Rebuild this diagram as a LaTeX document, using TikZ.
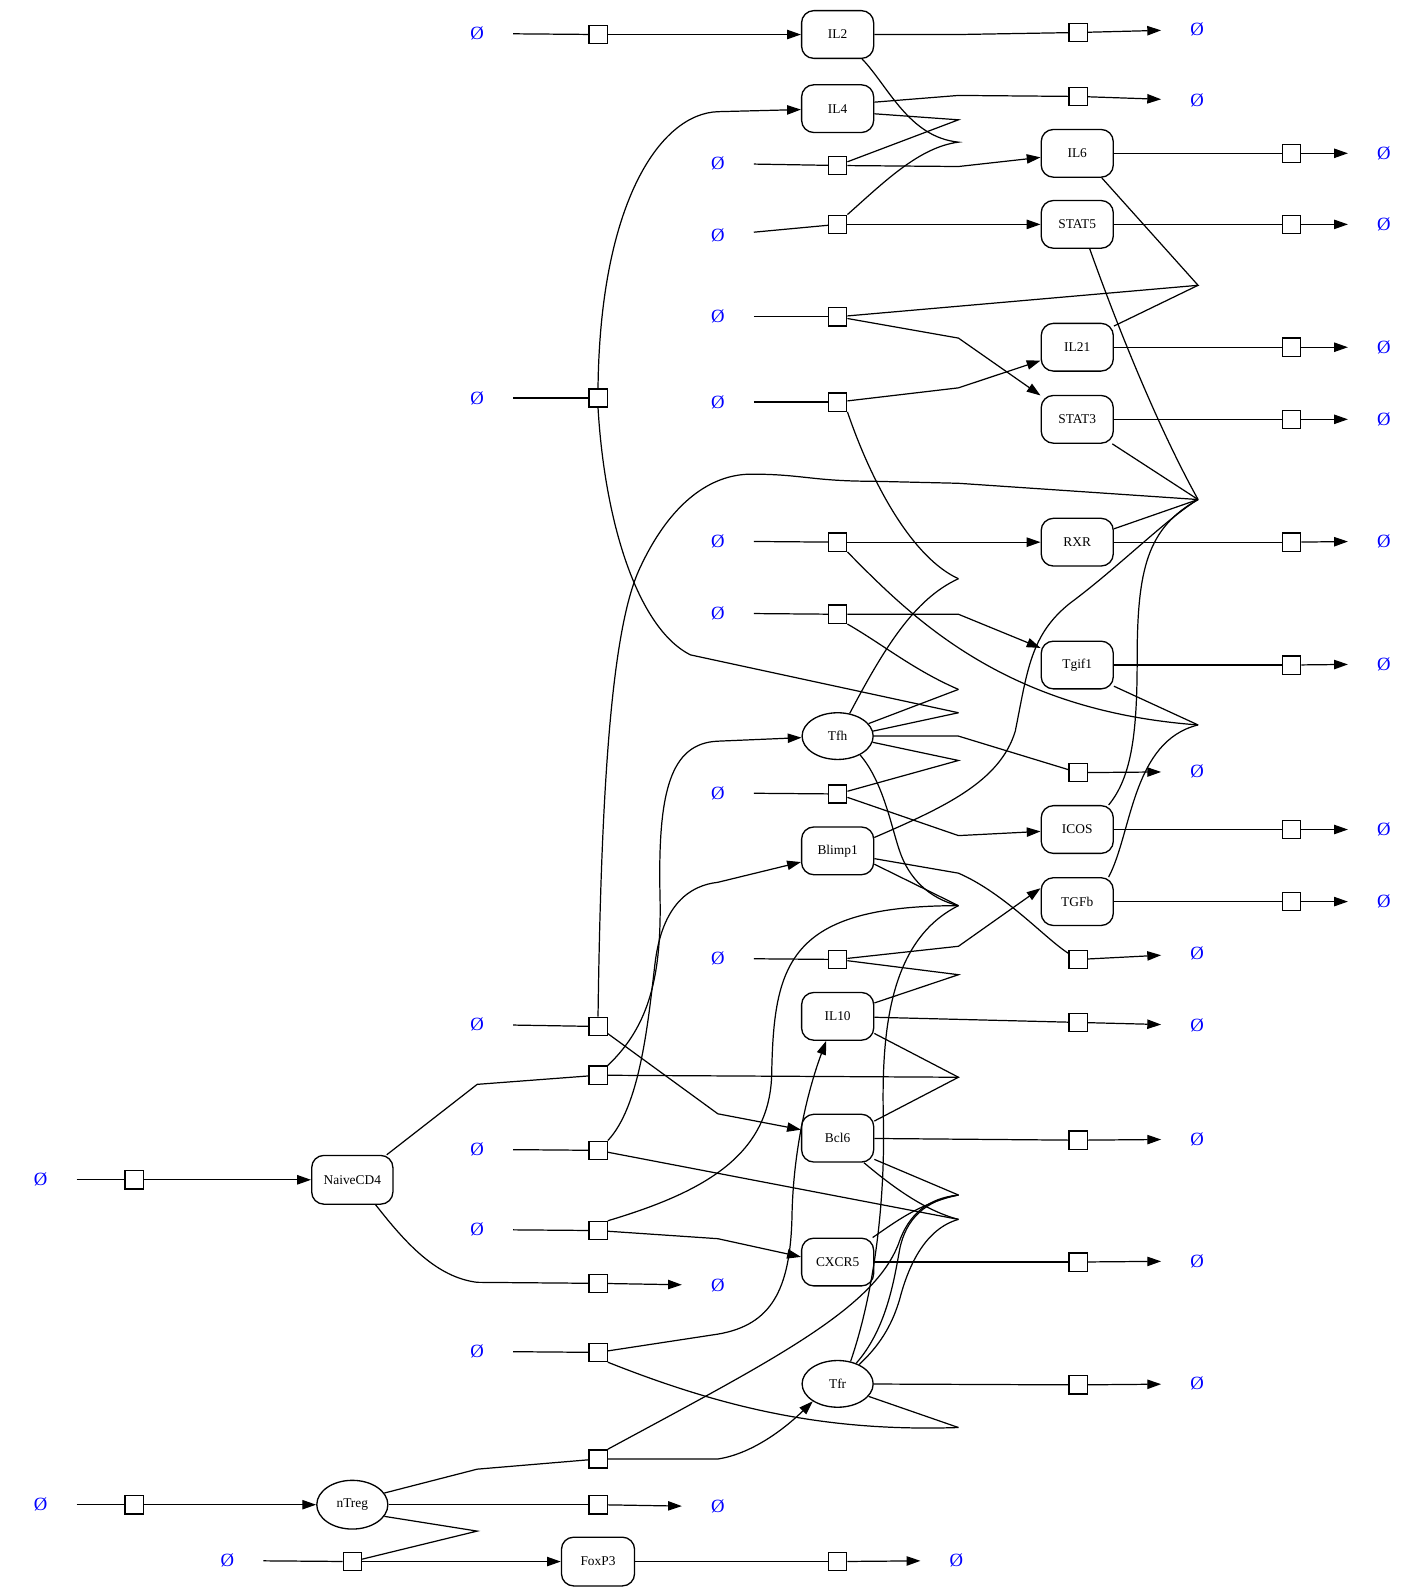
\documentclass[tikz,border=0pt]{standalone}
\usepackage{fontspec}
\setmainfont{Liberation Serif}
\usetikzlibrary{arrows.meta,shapes.geometric}
\begin{document}
\begin{tikzpicture}[x=0.5pt,y=-0.5pt,
  sp/.style={draw,rounded corners=6pt,minimum width=35.5pt,minimum height=23.5pt,inner sep=0pt,font=\fontsize{6.6}{8}\selectfont,line width=0.65pt},
  el/.style={draw,ellipse,minimum width=35pt,minimum height=23pt,inner sep=0pt,font=\fontsize{6.6}{8}\selectfont,line width=0.65pt},
  pr/.style={draw,rectangle,minimum size=9pt,inner sep=0pt,line width=0.65pt,fill=white},
  em/.style={rectangle,minimum width=35pt,minimum height=22pt,inner sep=0pt,text=blue,font=\fontsize{9.2}{11}\selectfont},
  ed/.style={line width=0.6pt},
  ar/.style={line width=0.6pt,-{Triangle[length=6.8pt,width=4.6pt]}}
]
\useasboundingbox (0,0) rectangle (1405,1568);

% species
\node[sp] (IL2) at (825,34) {IL2};
\node[sp] (IL4) at (825,107) {IL4};
\node[sp] (IL6) at (1061,151) {IL6};
\node[sp] (STAT5) at (1061,221) {STAT5};
\node[sp] (IL21) at (1061,342) {IL21};
\node[sp] (STAT3) at (1061,413) {STAT3};
\node[sp] (RXR) at (1061,534) {RXR};
\node[sp] (Tgif1) at (1061,655) {Tgif1};
\node[el] (Tfh) at (825,725) {Tfh};
\node[sp] (ICOS) at (1061,817) {ICOS};
\node[sp] (Blimp1) at (825,838) {Blimp1};
\node[sp] (TGFb) at (1061,888) {TGFb};
\node[sp] (IL10) at (825,1001) {IL10};
\node[sp] (Bcl6) at (825,1121) {Bcl6};
\node[sp,minimum width=40pt,minimum height=24pt] (NaiveCD4) at (347,1162) {NaiveCD4};
\node[sp] (CXCR5) at (825,1243) {CXCR5};
\node[el] (Tfr) at (825,1363) {Tfr};
\node[el,minimum height=24pt] (nTreg) at (347,1482) {nTreg};
\node[sp,minimum width=36pt,minimum height=24pt] (FoxP3) at (589,1538) {FoxP3};

% process squares
\node[pr] (q1) at (589,34) {};
\node[pr] (q2) at (1062,32) {};
\node[pr] (q3) at (1062,95) {};
\node[pr] (q4) at (825,163) {};
\node[pr] (q5) at (1272,151) {};
\node[pr] (q6) at (825,221) {};
\node[pr] (q7) at (1272,221) {};
\node[pr] (q8) at (825,312) {};
\node[pr] (q9) at (589,392) {};
\node[pr] (q10) at (825,396) {};
\node[pr] (q11) at (1272,342) {};
\node[pr] (q12) at (1272,413) {};
\node[pr] (q13) at (825,534) {};
\node[pr] (q14) at (1272,534) {};
\node[pr] (q15) at (825,605) {};
\node[pr] (q16) at (1272,655) {};
\node[pr] (q17) at (1062,761) {};
\node[pr] (q18) at (825,782) {};
\node[pr] (q19) at (1272,817) {};
\node[pr] (q20) at (1062,945) {};
\node[pr] (q21) at (1272,888) {};
\node[pr] (q22) at (825,945) {};
\node[pr] (q23) at (1062,1007) {};
\node[pr] (q24) at (589,1011) {};
\node[pr] (q25) at (589,1059) {};
\node[pr] (q26) at (589,1133) {};
\node[pr] (q27) at (1062,1123) {};
\node[pr] (q28) at (132,1162) {};
\node[pr] (q29) at (589,1212) {};
\node[pr] (q30) at (589,1264) {};
\node[pr] (q31) at (1062,1243) {};
\node[pr] (q32) at (589,1332) {};
\node[pr] (q33) at (1062,1364) {};
\node[pr] (q34) at (589,1437) {};
\node[pr] (q35) at (132,1482) {};
\node[pr] (q36) at (589,1482) {};
\node[pr] (q37) at (347,1538) {};
\node[pr] (q38) at (825,1538) {};

% empty sets
\node[em] (e1) at (470,33) {Ø};
\node[em] (e2) at (1179,29) {Ø};
\node[em] (e3) at (1179,99) {Ø};
\node[em] (e4) at (707,161) {Ø};
\node[em] (e5) at (1363,151) {Ø};
\node[em] (e6) at (707,232) {Ø};
\node[em] (e7) at (1363,221) {Ø};
\node[em] (e8) at (707,312) {Ø};
\node[em] (e9) at (470,392) {Ø};
\node[em] (e10) at (707,396) {Ø};
\node[em] (e11) at (1363,342) {Ø};
\node[em] (e12) at (1363,413) {Ø};
\node[em] (e13) at (707,533) {Ø};
\node[em] (e14) at (1363,533) {Ø};
\node[em] (e15) at (707,604) {Ø};
\node[em] (e16) at (1363,654) {Ø};
\node[em] (e17) at (1179,760) {Ø};
\node[em] (e18) at (707,781) {Ø};
\node[em] (e19) at (1363,817) {Ø};
\node[em] (e20) at (1179,939) {Ø};
\node[em] (e21) at (1363,888) {Ø};
\node[em] (e22) at (707,944) {Ø};
\node[em] (e23) at (1179,1010) {Ø};
\node[em] (e24) at (470,1009) {Ø};
\node[em] (e26) at (470,1132) {Ø};
\node[em] (e27) at (1179,1122) {Ø};
\node[em] (e28) at (40,1162) {Ø};
\node[em] (e29) at (470,1211) {Ø};
\node[em] (e30) at (707,1266) {Ø};
\node[em] (e31) at (1179,1242) {Ø};
\node[em] (e32) at (470,1331) {Ø};
\node[em] (e33) at (1179,1363) {Ø};
\node[em] (e35) at (40,1482) {Ø};
\node[em] (e36) at (707,1484) {Ø};
\node[em] (e37) at (224,1537) {Ø};
\node[em] (e38) at (942,1537) {Ø};

% invisible points
\coordinate (i2) at (944,34);
\coordinate (i3) at (944,94);
\coordinate (i4) at (944,164);
\coordinate (i8) at (944,333);
\coordinate (i9) at (707,110);
\coordinate (i10) at (944,382);
\coordinate (i15) at (944,605);
\coordinate (i17) at (944,725);
\coordinate (i18) at (944,823);
\coordinate (i20) at (944,860);
\coordinate (i22) at (944,932);
\coordinate (i23) at (944,1004);
\coordinate (i24) at (707,1097);
\coordinate (i25) at (470,1068);
\coordinate (i25b) at (707,730);
\coordinate (i26) at (707,869);
\coordinate (i29) at (707,1220);
\coordinate (i30) at (470,1263);
\coordinate (i32) at (707,1314);
\coordinate (i34) at (470,1447);
\coordinate (i34b) at (707,1437);
\coordinate (v1) at (944,118);
\coordinate (v2) at (944,140);
\coordinate (v3) at (1180,281);
\coordinate (v4) at (1180,492);
\coordinate (v5) at (944,570);
\coordinate (v6) at (944,679);
\coordinate (v7) at (944,702);
\coordinate (v8) at (1180,714);
\coordinate (v9) at (944,749);
\coordinate (v10) at (944,892);
\coordinate (v11) at (944,960);
\coordinate (v12) at (944,1061);
\coordinate (v13) at (944,1177);
\coordinate (v14) at (944,1201);
\coordinate (v15) at (944,1406);
\coordinate (v16) at (470,1508);

% production / degradation chains
\draw[ed] (e1) -- (q1); \draw[ar] (q1) -- (IL2);
\draw[ed] (IL2) -- (i2) -- (q2); \draw[ar] (q2) -- (e2);
\draw[ed] (IL4.10) -- (i3) -- (q3); \draw[ar] (q3) -- (e3);
\draw[ed] (e4) -- (q4); \draw[ar] (q4) -- (i4) -- (IL6);
\draw[ed] (IL6) -- (q5); \draw[ar] (q5) -- (e5);
\draw[ed] (e6) -- (q6); \draw[ar] (q6) -- (STAT5);
\draw[ed] (STAT5) -- (q7); \draw[ar] (q7) -- (e7);
\draw[ed] (e8) -- (q8); \draw[ar] (q8) -- (i8) -- (STAT3.147);
\draw[ed] (e9) -- (q9); \draw[ar] (q9.north) .. controls (591,200) and (650,112) .. (i9) -- (IL4);
\draw[ed] (e10) -- (q10); \draw[ar] (q10) -- (i10) -- (IL21.-160);
\draw[ed] (IL21) -- (q11); \draw[ar] (q11) -- (e11);
\draw[ed] (STAT3) -- (q12); \draw[ar] (q12) -- (e12);
\draw[ed] (e13) -- (q13); \draw[ar] (q13) -- (RXR);
\draw[ed] (RXR) -- (q14); \draw[ar] (q14) -- (e14);
\draw[ed] (e15) -- (q15); \draw[ar] (q15) -- (i15) -- (Tgif1.155);
\draw[ed] (Tgif1) -- (q16); \draw[ar] (q16) -- (e16);
\draw[ed] (Tfh) -- (i17) -- (q17); \draw[ar] (q17) -- (e17);
\draw[ed] (e18) -- (q18); \draw[ar] (q18) -- (i18) -- (ICOS);
\draw[ed] (ICOS) -- (q19); \draw[ar] (q19) -- (e19);
\draw[ed] (Blimp1.-12) -- (i20) .. controls (990,880) and (1030,925) .. (q20); \draw[ar] (q20) -- (e20);
\draw[ed] (TGFb) -- (q21); \draw[ar] (q21) -- (e21);
\draw[ed] (e22) -- (q22); \draw[ar] (q22) -- (i22) -- (TGFb.160);
\draw[ed] (IL10) -- (i23) -- (q23); \draw[ar] (q23) -- (e23);
\draw[ed] (e24) -- (q24); \draw[ar] (q24) -- (i24) -- (Bcl6.167);
\draw[ed] (NaiveCD4.36) -- (i25) -- (q25);
\draw[ar] (q25.north east) .. controls (640,1010) and (652,960) .. (650,880) .. controls (648,780) and (660,732) .. (i25b) -- (Tfh);
\draw[ed] (e26) -- (q26);
\draw[ar] (q26.north east) .. controls (630,1090) and (638,1010) .. (645,950) .. controls (652,890) and (680,872) .. (i26) -- (Blimp1.-163);
\draw[ed] (Bcl6) -- (q27); \draw[ar] (q27) -- (e27);
\draw[ed] (e28) -- (q28); \draw[ar] (q28) -- (NaiveCD4);
\draw[ed] (e29) -- (q29); \draw[ar] (q29) -- (i29) -- (CXCR5.172);
\draw[ed] (NaiveCD4.-47) .. controls (400,1225) and (430,1258) .. (i30) -- (q30); \draw[ar] (q30) -- (e30);
\draw[ed] (CXCR5) -- (q31); \draw[ar] (q31) -- (e31);
\draw[ed] (e32) -- (q32);
\draw[ar] (q32) -- (i32) .. controls (760,1305) and (778,1270) .. (780,1200) .. controls (781,1130) and (797,1070) .. (IL10.-115);
\draw[ed] (Tfr) -- (q33); \draw[ar] (q33) -- (e33);
\draw[ed] (nTreg.20) -- (i34) -- (q34);
\draw[ar] (q34) -- (i34b) .. controls (740,1432) and (772,1408) .. (Tfr.-145);
\draw[ed] (e35) -- (q35); \draw[ar] (q35) -- (nTreg);
\draw[ed] (nTreg) -- (q36); \draw[ar] (q36) -- (e36);
\draw[ed] (e37) -- (q37); \draw[ar] (q37) -- (FoxP3);
\draw[ed] (FoxP3) -- (q38); \draw[ar] (q38) -- (e38);

% modifier lines
\draw[ed] (IL4.-8) -- (v1) -- (q4);
\draw[ed] (IL2.-45) .. controls (875,85) and (895,135) .. (v2) .. controls (905,145) and (870,180) .. (q6.north east);
\draw[ed] (IL6.-45) -- (v3) -- (q8);
\draw[ed] (IL21.30) -- (v3);
\draw[ed] (STAT5.-63) .. controls (1100,320) and (1140,420) .. (v4);
\draw[ed] (STAT3.-35) -- (v4);
\draw[ed] (RXR.20) -- (v4);
\draw[ed] (q24.north) .. controls (592,780) and (602,620) .. (630,560) .. controls (660,495) and (700,467) .. (740,467) .. controls (790,467) and (800,474) .. (860,474) -- (944,476) -- (v4);
\draw[ed] (Blimp1.20) .. controls (930,795) and (985,770) .. (1000,720) .. controls (1012,660) and (1015,625) .. (1054,594) .. controls (1100,560) and (1150,510) .. (v4);
\draw[ed] (ICOS.38) .. controls (1115,765) and (1120,720) .. (1120,650) .. controls (1120,560) and (1130,520) .. (v4);
\draw[ed] (q10.south east) .. controls (860,480) and (900,550) .. (v5);
\draw[ed] (Tfh.62) .. controls (870,640) and (900,590) .. (v5);
\draw[ed] (q15.south east) .. controls (870,635) and (900,660) .. (v6);
\draw[ed] (Tfh.22) -- (v6);
\draw[ed] (q9.south) .. controls (596,520) and (630,620) .. (680,645) -- (v7);
\draw[ed] (Tfh.8) -- (v7);
\draw[ed] (q13.south east) .. controls (900,610) and (990,700) .. (v8);
\draw[ed] (Tgif1.-30) -- (v8);
\draw[ed] (TGFb.38) .. controls (1115,820) and (1115,730) .. (v8);
\draw[ed] (Tfh.-10) -- (v9) -- (q18);
\draw[ed] (Tfh.-40) .. controls (870,770) and (878,815) .. (886,838) .. controls (895,865) and (915,885) .. (v10);
\draw[ed] (Blimp1.-20) -- (v10);
\draw[ed] (q29.north east) .. controls (690,1175) and (757,1140) .. (760,1060) .. controls (762,950) and (775,892) .. (v10);
\draw[ed] (Tfr.60) .. controls (862,1270) and (872,1180) .. (870,1100) .. controls (868,1010) and (878,925) .. (v10);
\draw[ed] (q22) -- (v11) -- (IL10.20);
\draw[ed] (q25) -- (v12);
\draw[ed] (IL10.-25) -- (v12) -- (Bcl6.25);
\draw[ed] (Bcl6.-30) -- (v13);
\draw[ed] (CXCR5.35) .. controls (880,1205) and (905,1185) .. (v13);
\draw[ed] (q34.north east) .. controls (760,1340) and (860,1290) .. (885,1225) .. controls (895,1195) and (915,1180) .. (v13);
\draw[ed] (Tfr.48) .. controls (872,1310) and (880,1265) .. (886,1231) .. controls (892,1200) and (912,1182) .. (v13);
\draw[ed] (Tfr.42) .. controls (870,1322) and (880,1300) .. (886,1280) .. controls (895,1245) and (912,1210) .. (v14);
\draw[ed] (Bcl6.-43) .. controls (878,1168) and (910,1192) .. (v14);
\draw[ed] (q26) -- (v14);
\draw[ed] (q32.south east) .. controls (720,1390) and (820,1410) .. (v15);
\draw[ed] (Tfr.-22) -- (v15);
\draw[ed] (nTreg.-20) -- (v16) -- (q37);
\end{tikzpicture}
\end{document}
